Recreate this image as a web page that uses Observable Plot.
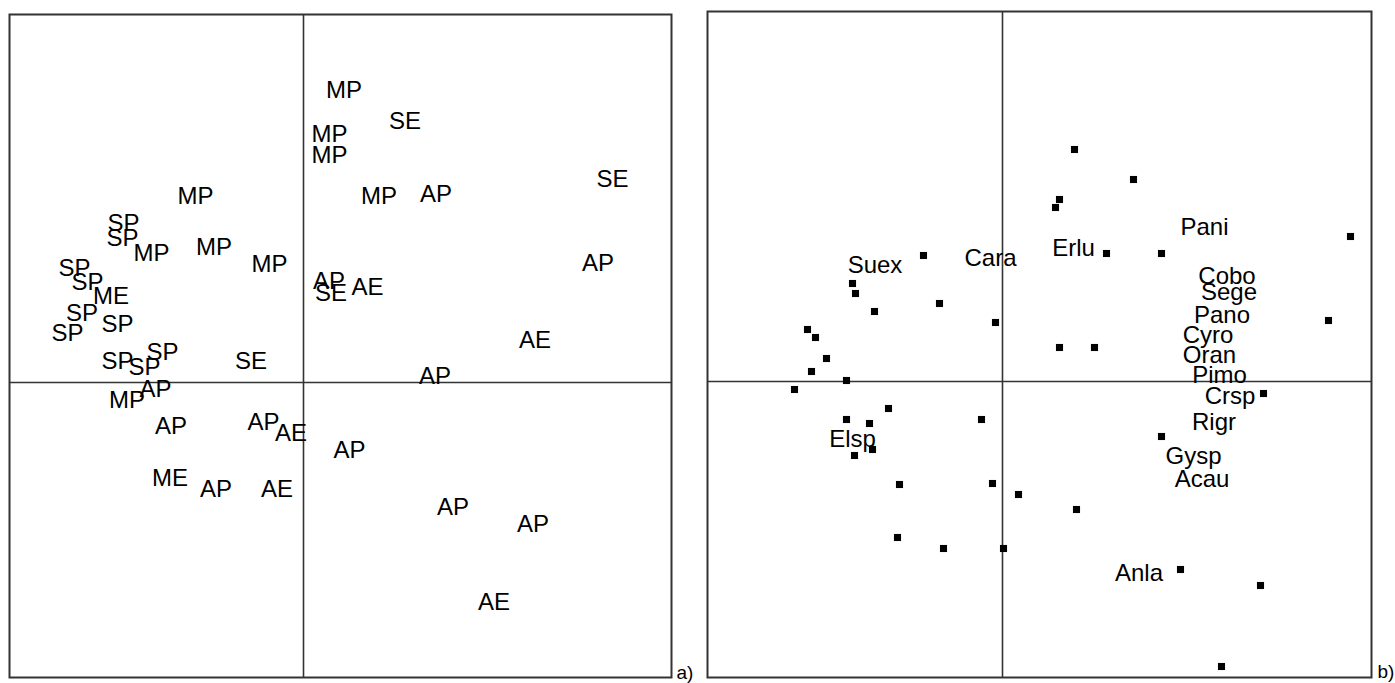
<!DOCTYPE html>
<html>
<head>
<meta charset="utf-8">
<script src="https://cdn.jsdelivr.net/npm/d3@7"></script>
<script src="https://cdn.jsdelivr.net/npm/@observablehq/plot@0.6"></script>
<style>
  html, body { margin: 0; padding: 0; background: #fff; }
  #wrap { position: relative; width: 1395px; height: 683px; }
  #a { position: absolute; left: 0; top: 0; }
  #b { position: absolute; left: 700px; top: 0; }
</style>
</head>
<body>
<div id="wrap"><div id="a"></div><div id="b"></div></div>
<script>
// Panel a): site scores shown as group labels
const siteLabels = ["MP","SE","MP","MP","MP","AP","SE","AP","AP","SE","AE","AE","AP",
  "MP","SP","SP","MP","MP","MP","SP","SP","ME","SP","SP","SP","SP","SP","SP","SE",
  "AP","MP","AP","AP","AE","ME","AP","AE","AP","AP","AP","AE"];
const siteX = [0.405,1.015,0.26,0.26,0.755,1.325,3.09,2.945,0.255,0.275,0.64,2.315,1.315,
  -1.08,-1.80,-1.81,-1.52,-0.895,-0.34,-2.29,-2.16,-1.925,-2.215,-1.86,-2.36,-1.86,-1.59,-1.41,-0.525,
  -1.48,-1.765,-1.325,-0.40,-0.125,-1.335,-0.875,-0.265,0.46,1.495,2.295,1.905];
const siteY = [2.92,2.61,2.485,2.275,1.865,1.885,2.035,1.195,1.015,0.895,0.955,0.42,0.065,
  1.86,1.595,1.445,1.295,1.355,1.18,1.145,1.00,0.86,0.695,0.585,0.495,0.21,0.15,0.30,0.21,
  -0.07,-0.18,-0.44,-0.40,-0.505,-0.955,-1.065,-1.065,-0.68,-1.25,-1.415,-2.195];

// Panel b): species scores (points) and species name labels
const spX = [-0.79,-1.50,-1.47,-1.28,-0.63,-0.07,-1.95,-1.87,0.72,1.31,0.57,0.53,1.04,1.59,3.48,3.26,
  0.57,0.92,2.61,1.59,-1.76,-1.91,-1.56,-2.08,-1.14,-1.56,-1.33,-0.21,-1.48,-1.30,-1.03,-0.10,
  0.16,-1.05,-0.59,0.01,0.74,1.78,2.58,2.19];
const spY = [1.26,0.98,0.88,0.70,0.78,0.59,0.52,0.44,2.32,2.02,1.82,1.74,1.28,1.28,1.45,0.61,
  0.34,0.34,-0.12,-0.55,0.23,0.10,0.01,-0.08,-0.27,-0.38,-0.42,-0.38,-0.74,-0.68,-1.03,-1.02,
  -1.13,-1.56,-1.67,-1.67,-1.28,-1.88,-2.04,-2.85];
const nameLabels = ["Suex","Cara","Erlu","Pani","Cobo","Sege","Pano","Cyro","Oran","Pimo","Crsp","Rigr","Elsp","Gysp","Acau","Anla"];
const nameX = [-1.275,-0.12,0.71,2.02,2.245,2.265,2.195,2.055,2.07,2.17,2.275,2.115,-1.50,1.91,1.995,1.365];
const nameY = [1.165,1.235,1.335,1.54,1.05,0.89,0.66,0.46,0.26,0.065,-0.145,-0.405,-0.58,-0.75,-0.98,-1.915];

const panelTags = ["a)", "b)"];

const sites = siteLabels.map((l, i) => ({label: l, x: siteX[i], y: siteY[i]}));
const species = spX.map((x, i) => ({x, y: spY[i]}));
const names = nameLabels.map((l, i) => ({label: l, x: nameX[i], y: nameY[i]}));

const font = "'Liberation Sans', Arial, sans-serif";
const lineCol = "#333";

const plotA = Plot.plot({
  width: 700, height: 683,
  marginLeft: 9, marginRight: 29, marginTop: 14, marginBottom: 6,
  x: {domain: [-2.94, 3.68], axis: null},
  y: {domain: [-2.95, 3.68], axis: null},
  style: {fontFamily: font, background: "white"},
  marks: [
    Plot.ruleX([0], {stroke: lineCol, strokeWidth: 1.6}),
    Plot.ruleY([0], {stroke: lineCol, strokeWidth: 1.6}),
    Plot.frame({stroke: lineCol, strokeWidth: 2}),
    Plot.text(sites, {x: "x", y: "y", text: "label", fontSize: 24, fill: "black"}),
    Plot.text([panelTags[0]], {frameAnchor: "bottom-right", textAnchor: "start", lineAnchor: "bottom", dx: 5, dy: 1, fontSize: 19, fill: "black"})
  ]
});
document.getElementById("a").appendChild(plotA);

const plotB = Plot.plot({
  width: 695, height: 683,
  marginLeft: 7, marginRight: 24, marginTop: 11, marginBottom: 6,
  x: {domain: [-2.95, 3.69], axis: null},
  y: {domain: [-2.96, 3.70], axis: null},
  style: {fontFamily: font, background: "white"},
  marks: [
    Plot.ruleX([0], {stroke: lineCol, strokeWidth: 1.6}),
    Plot.ruleY([0], {stroke: lineCol, strokeWidth: 1.6}),
    Plot.frame({stroke: lineCol, strokeWidth: 2}),
    Plot.dot(species, {x: "x", y: "y", symbol: "square", r: 4, fill: "black", stroke: "none"}),
    Plot.text(names, {x: "x", y: "y", text: "label", fontSize: 24, fill: "black"}),
    Plot.text([panelTags[1]], {frameAnchor: "bottom-right", textAnchor: "start", lineAnchor: "bottom", dx: 6, dy: 0, fontSize: 19, fill: "black"})
  ]
});
document.getElementById("b").appendChild(plotB);
</script>
</body>
</html>
